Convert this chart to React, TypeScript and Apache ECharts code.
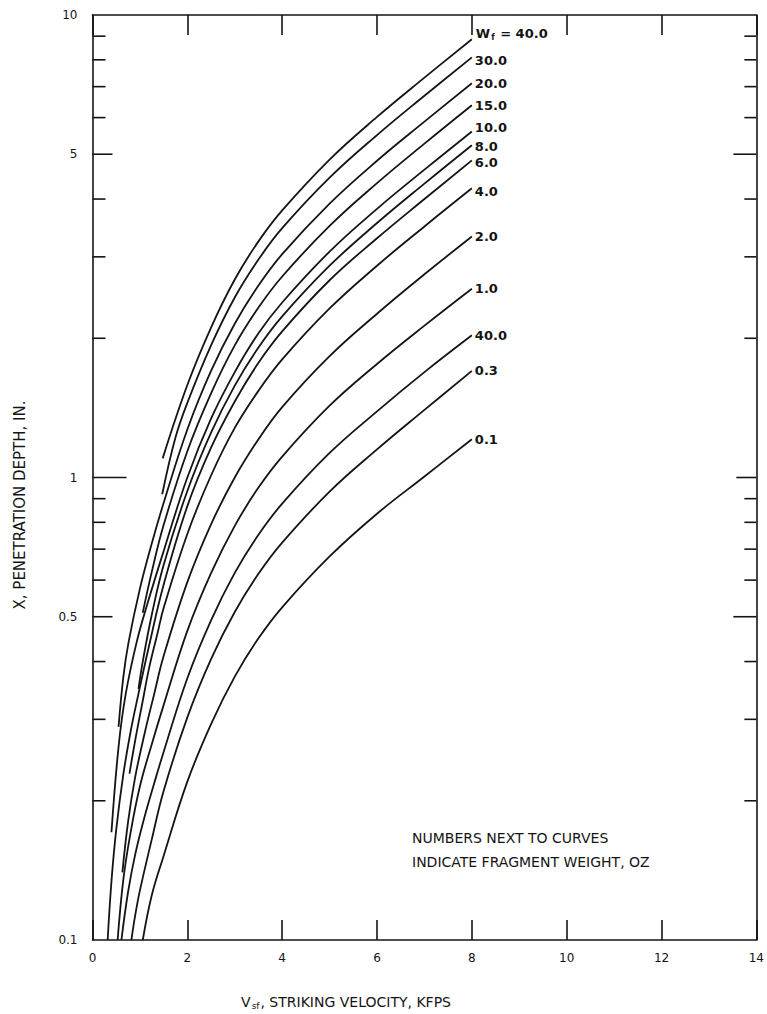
import React, { useEffect, useRef } from "react";
import * as echarts from "echarts";

const INK = "#141414";
const FONT = "'DejaVu Sans', 'Liberation Sans', sans-serif";

// Fragment weight labels as printed next to the curves (top to bottom)
const curveLabels = ["40.0", "30.0", "20.0", "15.0", "10.0", "8.0", "6.0", "4.0", "2.0", "1.0", "40.0", "0.3", "0.1"];

// [striking velocity (kfps), penetration depth (in.)]
const curveW40 = [[1.48, 1.1], [2, 1.585], [2.5, 2.11], [3, 2.68], [3.5, 3.24], [4, 3.78], [5, 4.87], [6, 6.02], [7, 7.32], [8, 8.86]];
const curveW30 = [[1.47, 0.92], [1.75, 1.22], [2, 1.45], [2.5, 1.93], [3, 2.45], [3.5, 2.96], [4, 3.46], [5, 4.45], [6, 5.5], [7, 6.69], [8, 8.1]];
const curveW20 = [[0.55, 0.289], [0.65, 0.37], [0.76, 0.44], [1.0, 0.575], [1.25, 0.72], [1.5, 0.881], [2, 1.27], [2.5, 1.7], [3, 2.15], [3.5, 2.6], [4, 3.04], [5, 3.91], [6, 4.84], [7, 5.88], [8, 7.12]];
const curveW15 = [[1.06, 0.51], [1.25, 0.625], [1.5, 0.789], [2, 1.14], [2.5, 1.52], [3, 1.93], [3.5, 2.33], [4, 2.72], [5, 3.5], [6, 4.33], [7, 5.27], [8, 6.38]];
const curveW10 = [[0.4, 0.171], [0.55, 0.262], [0.7, 0.34], [0.93, 0.44], [1.15, 0.53], [1.5, 0.693], [2, 1.0], [2.5, 1.34], [3, 1.69], [3.5, 2.05], [4, 2.39], [5, 3.08], [6, 3.81], [7, 4.63], [8, 5.6]];
const curveW8 = [[0.97, 0.349], [1.06, 0.4], [1.25, 0.505], [1.5, 0.647], [2, 0.935], [2.5, 1.25], [3, 1.58], [3.5, 1.91], [4, 2.23], [5, 2.87], [6, 3.55], [7, 4.32], [8, 5.23]];
const curveW6 = [[0.32, 0.1], [0.4, 0.134], [0.5, 0.173], [0.65, 0.228], [0.8, 0.281], [0.97, 0.341], [1.18, 0.427], [1.5, 0.586], [2, 0.867], [2.5, 1.16], [3, 1.46], [3.5, 1.77], [4, 2.07], [5, 2.67], [6, 3.29], [7, 4.0], [8, 4.85]];
const curveW4 = [[0.78, 0.229], [0.9, 0.27], [1.05, 0.325], [1.2, 0.39], [1.37, 0.46], [1.5, 0.522], [2, 0.755], [2.5, 1.01], [3, 1.28], [3.5, 1.54], [4, 1.8], [5, 2.32], [6, 2.87], [7, 3.49], [8, 4.22]];
const curveW2 = [[0.63, 0.14], [0.75, 0.18], [0.9, 0.225], [1.1, 0.28], [1.3, 0.34], [1.5, 0.411], [2, 0.594], [2.5, 0.792], [3, 1.0], [3.5, 1.21], [4, 1.42], [5, 1.83], [6, 2.26], [7, 2.75], [8, 3.32]];
const curveW1 = [[0.53, 0.1], [0.65, 0.135], [0.8, 0.17], [1.0, 0.215], [1.25, 0.265], [1.5, 0.322], [2, 0.466], [2.5, 0.621], [3, 0.786], [3.5, 0.951], [4, 1.11], [5, 1.43], [6, 1.76], [7, 2.13], [8, 2.56]];
const curveW05 = [[0.61, 0.1], [0.75, 0.127], [0.9, 0.153], [1.1, 0.185], [1.3, 0.218], [1.5, 0.255], [2, 0.368], [2.5, 0.491], [3, 0.622], [3.5, 0.752], [4, 0.878], [5, 1.13], [6, 1.39], [7, 1.69], [8, 2.03]];
const curveW03 = [[0.82, 0.1], [0.9, 0.113], [1.0, 0.128], [1.25, 0.165], [1.5, 0.21], [2, 0.303], [2.5, 0.405], [3, 0.512], [3.5, 0.619], [4, 0.723], [5, 0.932], [6, 1.15], [7, 1.4], [8, 1.7]];
const curveW01 = [[1.06, 0.1], [1.25, 0.125], [1.5, 0.152], [2, 0.22], [2.5, 0.293], [3, 0.371], [3.5, 0.449], [4, 0.524], [5, 0.675], [6, 0.835], [7, 1.005], [8, 1.21]];

const curves = [curveW40, curveW30, curveW20, curveW15, curveW10, curveW8, curveW6, curveW4, curveW2, curveW1, curveW05, curveW03, curveW01];

// Y axis (log) tick labels and tick marks
const yLabelValues = [0.1, 0.5, 1, 5, 10];
const yLabelTexts = ["0.1", "0.5", "1", "5", "10"];
const yMinorTicks = [0.2, 0.3, 0.4, 0.6, 0.7, 0.8, 0.9, 2, 3, 4, 6, 7, 8, 9];
const yMidTicks = [0.5, 5];
const yUnitTicks = [1];

const xTitle = "{a|V}{s|sf}{a|, STRIKING VELOCITY, KFPS}";
const yTitle = "X, PENETRATION DEPTH, IN.";
const noteLines = ["NUMBERS NEXT TO CURVES", "INDICATE FRAGMENT WEIGHT, OZ"];

export default function App() {
  const ref = useRef<HTMLDivElement>(null);

  useEffect(() => {
    if (!ref.current) return;
    const chart = echarts.init(ref.current, undefined, { renderer: "svg" });

    const tickData = [
      ...yMinorTicks.map((v) => [0, v, 0]),
      ...yMidTicks.map((v) => [0, v, 1]),
      ...yUnitTicks.map((v) => [0, v, 2]),
    ];
    const lenLeft = [13, 20, 34];
    const lenRight = [12, 23, 20];
    // small vertical nudges so neighbouring end labels do not collide
    const labelOffsets: Record<number, number[]> = { 0: [1, -6], 1: [0, 3], 4: [0, -4], 5: [0, 1], 6: [0, 2], 7: [0, 3] };

    const lineSeries = curves.map((data, i) => ({
      type: "line",
      name: curveLabels[i] + "#" + i,
      data,
      symbol: "none",
      showSymbol: false,
      smooth: 0.4,
      lineStyle: { color: INK, width: 1.8 },
      z: 2,
      endLabel: {
        show: true,
        distance: 3,
        offset: labelOffsets[i] || [0, 0],
        color: INK,
        fontFamily: FONT,
        fontSize: 13,
        fontWeight: "bold",
        formatter: i === 0 ? `{w|W}{s|f}{w| = ${curveLabels[0]}}` : curveLabels[i],
        rich: {
          w: { fontSize: 13, fontWeight: "bold", color: INK, fontFamily: FONT },
          s: { fontSize: 8, fontWeight: "bold", color: INK, fontFamily: FONT, padding: [8, 1, 0, 1] },
        },
      },
    }));

    const option: any = {
      animation: false,
      backgroundColor: "#ffffff",
      grid: { left: 92.5, right: 8, top: 15, bottom: 74, containLabel: false },
      xAxis: [
        {
          type: "value",
          min: 0,
          max: 14,
          interval: 2,
          position: "bottom",
          axisLine: { show: true, onZero: false, lineStyle: { color: INK, width: 1.6 } },
          axisTick: { show: true, inside: true, length: 20, lineStyle: { color: INK, width: 1.6 } },
          axisLabel: { color: INK, fontSize: 12, fontFamily: FONT, margin: 12 },
          splitLine: { show: false },
        },
        {
          type: "value",
          min: 0,
          max: 14,
          interval: 2,
          position: "top",
          axisLine: { show: true, onZero: false, lineStyle: { color: INK, width: 1.6 } },
          axisTick: { show: true, inside: true, length: 20, lineStyle: { color: INK, width: 1.6 } },
          axisLabel: { show: false },
          splitLine: { show: false },
        },
      ],
      yAxis: [
        {
          type: "log",
          logBase: 10,
          min: 0.1,
          max: 10,
          position: "left",
          axisLine: { show: true, onZero: false, lineStyle: { color: INK, width: 1.6 } },
          axisTick: { show: false },
          axisLabel: { show: false },
          splitLine: { show: false },
        },
        {
          type: "log",
          logBase: 10,
          min: 0.1,
          max: 10,
          position: "right",
          axisLine: { show: true, onZero: false, lineStyle: { color: INK, width: 1.6 } },
          axisTick: { show: false },
          axisLabel: { show: false },
          splitLine: { show: false },
        },
      ],
      graphic: [
        {
          type: "text",
          x: 20,
          y: 505,
          rotation: Math.PI / 2,
          style: { text: yTitle, fill: INK, font: `15px ${FONT}`, align: "center", verticalAlign: "middle" },
        },
        {
          type: "text",
          x: 346,
          y: 1002,
          style: {
            text: xTitle,
            fill: INK,
            align: "center",
            verticalAlign: "middle",
            rich: {
              a: { fontSize: 14, fontFamily: FONT, fill: INK },
              s: { fontSize: 9, fontFamily: FONT, fill: INK, padding: [8, 1, 0, 1] },
            },
          },
        },
        {
          type: "text",
          x: 412,
          y: 838,
          style: { text: noteLines[0], fill: INK, font: `14px ${FONT}`, align: "left", verticalAlign: "middle" },
        },
        {
          type: "text",
          x: 412,
          y: 862,
          style: { text: noteLines[1], fill: INK, font: `14px ${FONT}`, align: "left", verticalAlign: "middle" },
        },
      ],
      series: [
        ...lineSeries,
        {
          type: "custom",
          name: "yTicks",
          xAxisIndex: 0,
          yAxisIndex: 0,
          silent: true,
          z: 3,
          encode: { x: 0, y: 1 },
          data: tickData,
          renderItem: (params: any, api: any) => {
            const v = api.value(1);
            const kind = api.value(2);
            const pl = api.coord([0, v]);
            const pr = api.coord([14, v]);
            return {
              type: "group",
              children: [
                { type: "line", shape: { x1: pl[0], y1: pl[1], x2: pl[0] + lenLeft[kind], y2: pl[1] }, style: { stroke: INK, lineWidth: 1.6 } },
                { type: "line", shape: { x1: pr[0], y1: pr[1], x2: pr[0] - lenRight[kind], y2: pr[1] }, style: { stroke: INK, lineWidth: 1.6 } },
              ],
            };
          },
        },
        {
          type: "custom",
          name: "yLabels",
          xAxisIndex: 0,
          yAxisIndex: 0,
          silent: true,
          z: 3,
          encode: { x: 0, y: 1 },
          data: yLabelValues.map((v) => [0, v]),
          renderItem: (params: any, api: any) => {
            const v = api.value(1);
            const p = api.coord([0, v]);
            return {
              type: "text",
              x: p[0] - 15,
              y: p[1],
              style: {
                text: yLabelTexts[params.dataIndex],
                fill: INK,
                font: `12px ${FONT}`,
                align: "right",
                verticalAlign: "middle",
              },
            };
          },
        },
      ],
    };

    chart.setOption(option);
    return () => chart.dispose();
  }, []);

  return (
    <div
      ref={ref}
      style={{ position: "fixed", left: 0, top: 0, width: 767, height: 1014, background: "#ffffff" }}
    />
  );
}
